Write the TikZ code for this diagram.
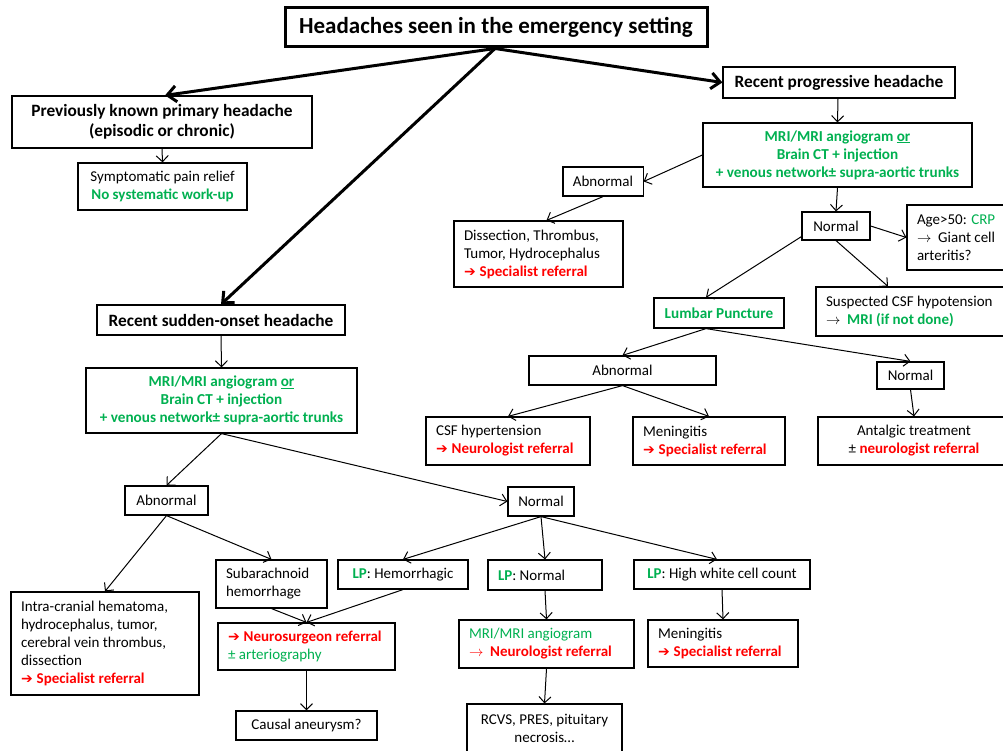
\documentclass[tikz,border=0pt]{standalone}
\usepackage{fontspec}
\setmainfont{Carlito}
\newfontfamily\symfont{DejaVu Sans}
\usetikzlibrary{arrows.meta}
\definecolor{okgreen}{RGB}{0,176,80}
\definecolor{refred}{RGB}{255,0,0}
\newcommand{\refer}[1]{\textcolor{refred}{{\symfont\bfseries\fontsize{14}{18}\selectfont ➔}\hspace{4pt}\bfseries #1}}
\newcommand{\thinto}{$\rightarrow$\ \ }

\tikzset{
  plainbox/.style={draw, line width=1.2pt, inner xsep=10pt, inner ysep=3pt, align=center, font=\fontsize{15}{18}\selectfont},
  headbox/.style={plainbox, font=\fontsize{17.3}{20}\selectfont\bfseries},
  leftbox/.style={plainbox, align=flush left},
  greenbox/.style={plainbox, text=okgreen, font=\fontsize{15.2}{18}\selectfont\bfseries},
  topbox/.style={draw, line width=3pt, font=\fontsize{23}{26}\selectfont\bfseries},
  arr/.style={-{Straight Barb[length=6pt,width=12pt]}, line width=1pt},
  bigarr/.style={-{Straight Barb[length=9pt,width=16pt,line width=3pt]}, line width=3pt}
}

\begin{document}
\begin{tikzpicture}[x=1pt,y=-1pt]
\useasboundingbox (0,0) rectangle (1003,751);
\clip (0,0) rectangle (1003,751);

\node[topbox, minimum width=422pt, minimum height=39pt] (head) at (496,27.5) {Headaches seen in the emergency setting};

\node[headbox, minimum width=300pt, minimum height=52pt] (known) at (162,122) {Previously known primary headache\\(episodic or chronic)};
\node[plainbox, minimum width=169pt, minimum height=47pt] (relief) at (162.5,186.5) {Symptomatic pain relief\\\textcolor{okgreen}{\bfseries No systematic work-up}};

\node[headbox, minimum width=232pt, minimum height=31pt] (progr) at (839,82.5) {Recent progressive headache};
\node[greenbox, minimum width=269pt, minimum height=64pt] (imgA) at (837.5,155) {MRI/MRI angiogram \underline{or}\\Brain CT + injection\\+ venous network± supra-aortic trunks};
\node[plainbox, minimum width=72pt, minimum height=29pt] (abnA) at (603,181.5) {Abnormal};
\node[leftbox, text width=149pt, minimum height=66pt] (massA) at (538.5,254) {Dissection, Thrombus,\\Tumor, Hydrocephalus\\\refer{Specialist referral}};
\node[plainbox, minimum width=68pt, minimum height=28pt] (normA) at (836,226) {Normal};
\node[leftbox, text width=83pt, minimum height=65pt] (giant) at (958.5,237.5) {Age>50: \textcolor{okgreen}{CRP}\\\thinto Giant cell\\arteritis?};
\node[leftbox, text width=174pt, minimum height=49pt] (hypo) at (913,311.5) {Suspected CSF hypotension\\\thinto\textcolor{okgreen}{\bfseries MRI (if not done)}};
\node[greenbox, minimum width=130pt, minimum height=30pt] (lp) at (719,313) {Lumbar Puncture};
\node[plainbox, minimum width=187pt, minimum height=29pt] (abnB) at (622.5,370.5) {Abnormal};
\node[plainbox, minimum width=67pt, minimum height=27pt] (normB) at (910.5,375.5) {Normal};
\node[leftbox, text width=144pt, minimum height=48pt] (hyper) at (508,441) {CSF hypertension\\\refer{Neurologist referral}};
\node[leftbox, text width=132pt, minimum height=48pt] (menA) at (709,441) {Meningitis\\\refer{Specialist referral}};
\node[plainbox, minimum width=192pt, minimum height=48pt] (antalg) at (914,441) {Antalgic treatment\\± \textcolor{refred}{\bfseries neurologist referral}};

\node[headbox, minimum width=248pt, minimum height=30pt] (sudden) at (221,320) {Recent sudden-onset headache};
\node[greenbox, minimum width=271pt, minimum height=65pt] (imgB) at (221.5,400.5) {MRI/MRI angiogram \underline{or}\\Brain CT + injection\\+ venous network± supra-aortic trunks};
\node[plainbox, minimum width=83pt, minimum height=29pt] (abnC) at (166.5,500.5) {Abnormal};
\node[plainbox, minimum width=66pt, minimum height=29pt] (normC) at (541,501.5) {Normal};
\node[leftbox, text width=168pt, minimum height=103pt] (massB) at (105,643.5) {Intra-cranial hematoma,\\hydrocephalus, tumor,\\cerebral vein thrombus,\\dissection\\\refer{Specialist referral}};
\node[leftbox, text width=91pt, minimum height=48pt] (sah) at (271.5,584) {Subarachnoid\\hemorrhage};
\node[plainbox, minimum width=130pt, minimum height=29pt] (lpHem) at (403,574.5) {\textcolor{okgreen}{\bfseries LP}: Hemorrhagic};
\node[leftbox, text width=94pt, minimum height=30pt] (lpNorm) at (545,575) {\textcolor{okgreen}{\bfseries LP}: Normal};
\node[plainbox, minimum width=176pt, minimum height=29pt] (lpHigh) at (722,574.5) {\textcolor{okgreen}{\bfseries LP}: High white cell count};
\node[leftbox, text width=157pt, minimum height=47pt] (surg) at (306.5,646.5) {\refer{Neurosurgeon referral}\\\textcolor{okgreen}{± arteriography}};
\node[plainbox, minimum width=141pt, minimum height=29pt] (aneur) at (306.5,725.5) {Causal aneurysm?};
\node[leftbox, text width=155pt, minimum height=48pt] (imgC) at (546.5,644) {\textcolor{okgreen}{MRI/MRI angiogram}\\\textcolor{refred}{\thinto\bfseries Neurologist referral}};
\node[leftbox, text width=130pt, minimum height=47pt] (menB) at (723,643.5) {Meningitis\\\refer{Specialist referral}};
\node[plainbox, minimum width=155pt, minimum height=48pt] (rcvs) at (544.5,728) {RCVS, PRES, pituitary\\necrosis…};

\draw[bigarr] ([xshift=-1pt]head.south) -- ([xshift=3pt]known.north);
\draw[bigarr] ([xshift=-1pt]head.south) -- (progr.west);
\draw[bigarr] ([xshift=-1pt]head.south) -- (sudden.north);

\draw[arr] (known.south) -- (relief.north);
\draw[arr] ([xshift=-1pt]progr.south) -- (imgA.north);
\draw[arr] (imgA.west) -- (abnA.east);
\draw[arr] (abnA.south) -- ([xshift=8pt]massA.north);
\draw[arr] (imgA.south) -- (normA.north);
\draw[arr] (normA.east) -- (giant.west);
\draw[arr] (normA.south) -- ([xshift=-25pt]hypo.north);
\draw[arr] ([yshift=4pt]normA.south west) -- ([xshift=-13pt]lp.north);
\draw[arr] ([xshift=-13pt]lp.south) -- (abnB.north);
\draw[arr] ([xshift=-13pt]lp.south) -- (normB.north);
\draw[arr] (normB.south) -- (antalg.north);
\draw[arr] (abnB.south) -- (hyper.north);
\draw[arr] (abnB.south) -- (menA.north);

\draw[arr] (sudden.south) -- (imgB.north);
\draw[arr] (imgB.south) -- (abnC.north);
\draw[arr] (imgB.south) -- (normC.west);
\draw[arr] (abnC.south) -- (massB.north);
\draw[arr] (abnC.south) -- (sah.north);
\draw[arr] (normC.south) -- (lpHem.north);
\draw[arr] (normC.south) -- (lpNorm.north);
\draw[arr] (normC.south) -- ([xshift=-5pt]lpHigh.north);
\draw[arr] (sah.south) -- (surg.north);
\draw[arr] (lpHem.south) -- (surg.north);
\draw[arr] (surg.south) -- (aneur.north);
\draw[arr] (lpNorm.south) -- (imgC.north);
\draw[arr] (imgC.south) -- (rcvs.north);
\draw[arr] (lpHigh.south) -- (menB.north);
\end{tikzpicture}
\end{document}
